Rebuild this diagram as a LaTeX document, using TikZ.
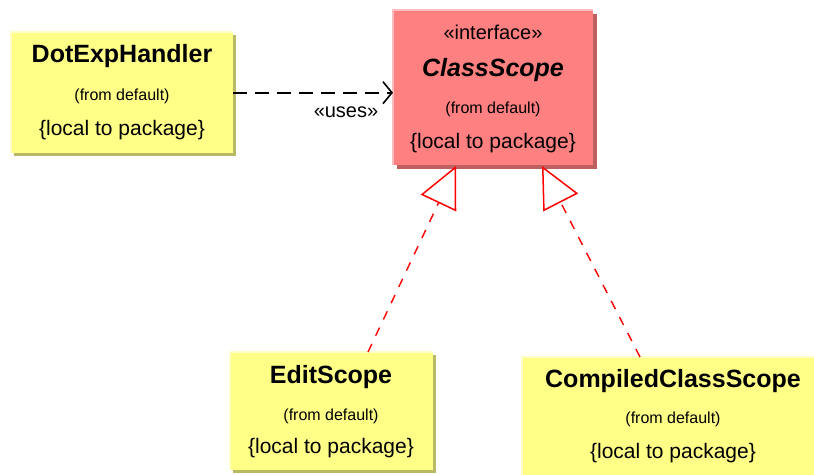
\documentclass[tikz,border=0pt]{standalone}
\usepackage{fontspec}
\setmainfont{Liberation Sans}
\usetikzlibrary{arrows.meta,shadows}
\definecolor{yfill}{RGB}{255,255,136}
\definecolor{yhigh}{RGB}{255,255,200}
\definecolor{yshadow}{RGB}{186,186,100}
\definecolor{pfill}{RGB}{255,128,128}
\definecolor{phigh}{RGB}{255,190,190}
\definecolor{pshadow}{RGB}{190,96,96}
\begin{document}
\begin{tikzpicture}[x=1pt,y=-1pt,
  boxbase/.style={inner sep=0pt, anchor=north west, draw=none},
  ybox/.style={boxbase, fill=yfill, drop shadow={shadow xshift=3pt, shadow yshift=-3pt, fill=yshadow, opacity=1}},
  pbox/.style={boxbase, fill=pfill, drop shadow={shadow xshift=4pt, shadow yshift=-4pt, fill=pshadow, opacity=1}},
  yhl/.style={yhigh, line width=1.5pt},
  phl/.style={phigh, line width=1.5pt},
  ttl/.style={font=\bfseries\fontsize{25}{30}\selectfont, anchor=base, inner sep=0pt},
  ittl/.style={font=\bfseries\itshape\fontsize{25}{30}\selectfont, anchor=base, inner sep=0pt},
  from/.style={font=\fontsize{16}{19}\selectfont, anchor=base, inner sep=0pt},
  local/.style={font=\fontsize{21}{25}\selectfont, anchor=base, inner sep=0pt},
  stereo/.style={font=\fontsize{20}{24}\selectfont, anchor=base, inner sep=0pt},
  dep/.style={black, line width=1.9pt, dash pattern=on 14pt off 8pt, -{Straight Barb[length=9pt, width=22pt, line width=1.6pt]}},
  real/.style={red, line width=1.4pt, dash pattern=on 9pt off 9pt, -{Triangle[open, length=41pt, width=39pt, line width=1.5pt]}}
]
\useasboundingbox (0,0) rectangle (814,474);
\clip (0,0) rectangle (814,474);

% boxes
\node[ybox, minimum width=222pt, minimum height=121pt] (dot) at (11,32) {};
\node[pbox, minimum width=200pt, minimum height=155pt] (cls) at (393,10) {};
\node[ybox, minimum width=203pt, minimum height=118pt] (edit) at (230,352) {};
\node[ybox, minimum width=300pt, minimum height=130pt] (comp) at (522,357) {};

% highlights on top and left edges
\draw[yhl] (dot.south west) -- (dot.north west) -- (dot.north east);
\draw[phl] (cls.south west) -- (cls.north west) -- (cls.north east);
\draw[yhl] (edit.south west) -- (edit.north west) -- (edit.north east);
\draw[yhl] (comp.south west) -- (comp.north west) -- (comp.north east);

% texts
\node[ttl] (dott) at (122,62) {DotExpHandler};
\node[from] (dotf) at (122,100) {(from default)};
\node[local] (dotl) at (122,135) {\{local to package\}};

\node[stereo] (clss) at (493,39) {«interface»};
\node[ittl] (clst) at (493,76) {ClassScope};
\node[from] (clsf) at (493,113) {(from default)};
\node[local] (clsl) at (493,148) {\{local to package\}};

\node[ttl] (editt) at (331,383) {EditScope};
\node[from] (editf) at (331,420) {(from default)};
\node[local] (editl) at (331,453) {\{local to package\}};

\node[ttl] (compt) at (673,387) {CompiledClassScope};
\node[from] (compf) at (673,423) {(from default)};
\node[local] (compl) at (673,458) {\{local to package\}};

% dependency
\draw[dep] (dot.east) -- (dot.east -| cls.west);
\node[stereo] (uses) at (346,117) {«uses»};

% realizations
\coordinate (t1) at (456,166);
\coordinate (e1) at (368,352);
\coordinate (t2) at (542,166);
\coordinate (c2) at (640,357);
\draw[real] (e1) -- (t1);
\draw[real] (c2) -- (t2);
\end{tikzpicture}
\end{document}
